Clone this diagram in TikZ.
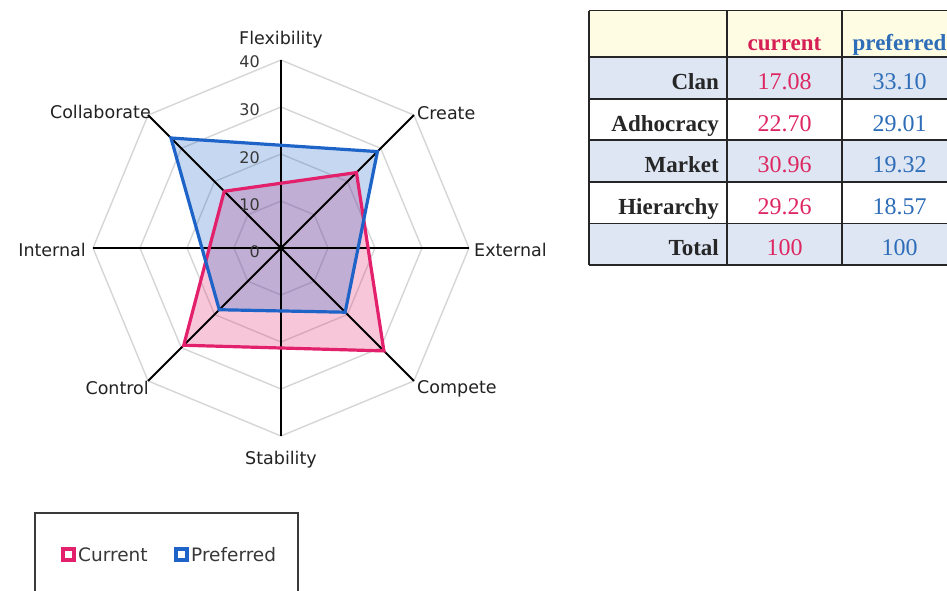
\documentclass[tikz,border=0pt]{standalone}
\usepackage{fontspec}
\setmainfont{Liberation Serif}
\newfontfamily\chartfont{DejaVu Sans}
\usetikzlibrary{calc}

\definecolor{curline}{HTML}{E3206B}
\definecolor{prefline}{HTML}{1E64C8}
\definecolor{gridgray}{HTML}{D6D6D6}
\definecolor{labelgray}{HTML}{222222}
\definecolor{tickgray}{HTML}{383838}
\definecolor{headfill}{HTML}{FEFCE3}
\definecolor{rowfill}{HTML}{DDE6F2}
\definecolor{curtext}{HTML}{DE2762}
\definecolor{curhead}{HTML}{D61F55}
\definecolor{preftext}{HTML}{2E6DB8}
\definecolor{legendframe}{HTML}{3A3A3A}

\begin{document}
\begin{tikzpicture}[x=1pt,y=-1pt,
  gridline/.style={draw=gridgray,line width=1.4pt},
  axisline/.style={draw=black,line width=1.8pt},
  curfill/.style={fill=curline,fill opacity=0.25},
  preffill/.style={fill=prefline,fill opacity=0.25},
  curedge/.style={draw=curline,line width=3.2pt},
  prefedge/.style={draw=prefline,line width=3.2pt},
  axislabel/.style={font=\chartfont\fontsize{17.5}{20}\selectfont,text=labelgray,inner sep=0pt},
  ticklabel/.style={font=\chartfont\fontsize{16}{18}\selectfont,text=tickgray,anchor=east,inner sep=0pt},
  tablerule/.style={draw=black!85,line width=1.8pt},
  rowname/.style={font=\bfseries\fontsize{23}{26}\selectfont,text=black!85,anchor=base east,inner sep=0pt},
  curval/.style={font=\fontsize{24}{27}\selectfont,text=curtext,anchor=base,inner sep=0pt},
  prefval/.style={font=\fontsize{24}{27}\selectfont,text=preftext,anchor=base,inner sep=0pt},
  legendtext/.style={font=\chartfont\fontsize{18.5}{21}\selectfont,text=tickgray,anchor=west,inner sep=0pt},
  legendmark/.style={line width=3.8pt,fill=white},
]
\useasboundingbox (0,0) rectangle (947,590);
\clip (0,0) rectangle (947,590);
\fill[white] (0,0) rectangle (947,590);

% ---------------- radar chart ----------------
\def\u{4.7}
\begin{scope}[shift={(281,248)}]
  \coordinate (c) at (0,0);
  % concentric octagons
  \foreach \r in {47,94,141,188}{
    \draw[gridline] (0:\r) -- (45:\r) -- (90:\r) -- (135:\r) -- (180:\r)
      -- (225:\r) -- (270:\r) -- (315:\r) -- cycle;
  }
  % spoke ends
  \coordinate (flex) at (-90:188);
  \coordinate (crea) at (-45:188);
  \coordinate (extn) at (0:188);
  \coordinate (comp) at (45:188);
  \coordinate (stab) at (90:188);
  \coordinate (ctrl) at (135:188);
  \coordinate (intn) at (180:188);
  \coordinate (coll) at (-135:188);

  % data points
  \coordinate (cCollab) at (-135:{17.08*\u});
  \coordinate (cCreate) at (-45:{22.70*\u});
  \coordinate (cCompete) at (45:{30.96*\u});
  \coordinate (cControl) at (135:{29.26*\u});
  \coordinate (pCollab) at (-135:{33.10*\u});
  \coordinate (pCreate) at (-45:{29.01*\u});
  \coordinate (pCompete) at (45:{19.32*\u});
  \coordinate (pControl) at (135:{18.57*\u});

  % area fills
  \fill[curfill] (cCollab) -- (cCreate) -- (cCompete) -- (cControl) -- cycle;
  \fill[preffill] (pCollab) -- (pCreate) -- (pCompete) -- (pControl) -- cycle;

  % spokes
  \foreach \e in {flex,crea,extn,comp,stab,ctrl,intn,coll}{
    \draw[axisline] (c) -- (\e);
  }
  \fill[black] (c) circle (2.8);

  % series outlines
  \draw[curedge] (cCollab) -- (cCreate) -- (cCompete) -- (cControl) -- cycle;
  \draw[prefedge] (pCollab) -- (pCreate) -- (pCompete) -- (pControl) -- cycle;

  % scale values
  \node[ticklabel] (t0)  at (-21,4) {0};
  \node[ticklabel] (t10) at (-21,-43) {10};
  \node[ticklabel] (t20) at (-21,-90) {20};
  \node[ticklabel] (t30) at (-21,-138) {30};
  \node[ticklabel] (t40) at (-21,-186) {40};
\end{scope}

% axis names
\node[axislabel] (lflex) at (281,40) {Flexibility};
\node[axislabel,anchor=west] (lcrea) at (417,113) {Create};
\node[axislabel,anchor=west] (lextn) at (474,250) {External};
\node[axislabel,anchor=west] (lcomp) at (417,389) {Compete};
\node[axislabel] (lstab) at (281,460) {Stability};
\node[axislabel,anchor=east] (lctrl) at (149,388) {Control};
\node[axislabel,anchor=east] (lintn) at (86,250) {Internal};
\node[axislabel,anchor=east] (lcoll) at (151,112) {Collaborate};

% ---------------- legend ----------------
\draw[draw=legendframe,line width=1.6pt] (35,513) rectangle (298,620);
\draw[legendmark,draw=curline] (63,549) rectangle (74,560);
\node[legendtext] (legcur) at (78,555) {Current};
\draw[legendmark,draw=prefline] (176,549) rectangle (187,560);
\node[legendtext] (legpref) at (191,555) {Preferred};

% ---------------- table ----------------
\fill[headfill] (589,10.5) rectangle (957,57);
\fill[rowfill] (589,57) rectangle (957,98.6);
\fill[rowfill] (589,140.2) rectangle (957,181.8);
\fill[rowfill] (589,223.4) rectangle (957,265);
\foreach \y in {10.5,57,98.6,140.2,181.8,223.4,265}{
  \draw[tablerule] (589,\y) -- (957,\y);
}
\foreach \x in {589,727,842,957}{
  \draw[tablerule] (\x,10.5) -- (\x,265);
}

\node[font=\bfseries\fontsize{23}{26}\selectfont,text=curhead,anchor=base,inner sep=0pt] (hcur) at (784.5,50) {current};
\node[font=\bfseries\fontsize{23}{26}\selectfont,text=preftext,anchor=base,inner sep=0pt] (hpref) at (899.5,50) {preferred};

\node[rowname] (rclan) at (719,89.5) {Clan};
\node[curval]  (vclanc) at (784.5,89.5) {17.08};
\node[prefval] (vclanp) at (899.5,89.5) {33.10};

\node[rowname] (radho) at (719,131) {Adhocracy};
\node[curval]  (vadhoc) at (784.5,131) {22.70};
\node[prefval] (vadhop) at (899.5,131) {29.01};

\node[rowname] (rmark) at (719,172.5) {Market};
\node[curval]  (vmarkc) at (784.5,172.5) {30.96};
\node[prefval] (vmarkp) at (899.5,172.5) {19.32};

\node[rowname] (rhier) at (719,214) {Hierarchy};
\node[curval]  (vhierc) at (784.5,214) {29.26};
\node[prefval] (vhierp) at (899.5,214) {18.57};

\node[rowname] (rtot) at (719,255.5) {Total};
\node[curval]  (vtotc) at (784.5,255.5) {100};
\node[prefval] (vtotp) at (899.5,255.5) {100};
\end{tikzpicture}
\end{document}
